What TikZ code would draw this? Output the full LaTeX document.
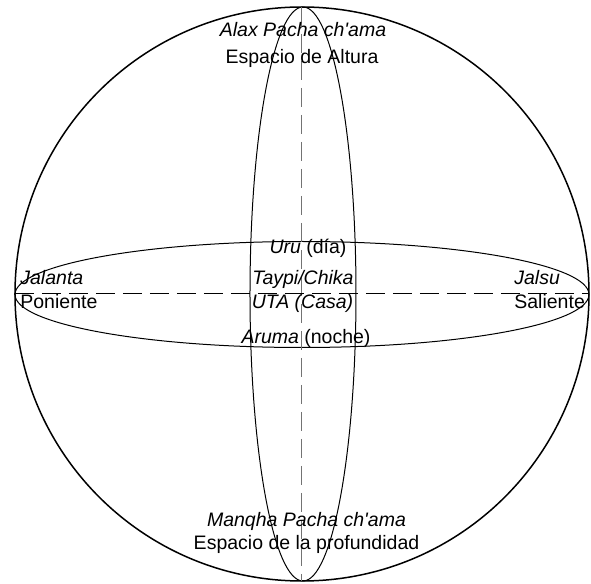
\documentclass[tikz,border=0pt]{standalone}
\usepackage{fontspec}
\setmainfont{Liberation Sans}
\usepackage{tikz}
\usetikzlibrary{positioning,calc}
\tikzset{
  sph_outer/.style={draw, line width=0.75pt},
  sph_ring/.style={draw, line width=0.5pt},
  sph_axis/.style={line width=0.5pt, dash pattern=on 9.5pt off 4pt},
  sph_axisv/.style={sph_axis, draw=black!55},
  sph_lbl/.style={inner sep=0pt, anchor=base, font=\fontsize{9.75}{11.7}\selectfont},
  sph_lblw/.style={sph_lbl, anchor=base west},
}

\begin{document}
\begin{tikzpicture}

\useasboundingbox (-151pt,-145pt) rectangle (144.5pt,147pt);

% sphere and its two rings
\draw[sph_outer] (0,0) circle (143.5pt);
\draw[sph_ring]  (0.5pt,0) ellipse (26.5pt and 143.5pt);
\draw[sph_ring]  (0,-0.25pt) ellipse (143.5pt and 26.5pt);

% axis end points
\coordinate (north) at (0,143.5pt);
\coordinate (south) at (0,-143.5pt);
\coordinate (west)  at (-143.5pt,0);
\coordinate (east)  at (143.5pt,0);

\draw[sph_axisv] (north) -- (south);
\draw[sph_axis]  (west)  -- (east);

% upper space
\node[sph_lbl] (alax)   at (0.5pt,128.65pt)  {\itshape Alax Pacha ch\textquotesingle ama};
\node[sph_lbl] (altura) at (0pt,115.35pt)    {Espacio de Altura};

% centre
\node[sph_lbl] (uru)    at (3pt,20pt)        {\textit{Uru} (día)};
\node[sph_lbl] (taypi)  at (0.5pt,4.5pt)     {\itshape Taypi/Chika};
\node[sph_lbl] (uta)    at (0.25pt,-7.5pt)   {\itshape UTA (Casa)};
\node[sph_lbl] (aruma)  at (2pt,-25pt)       {\textit{Aruma} (noche)};

% west and east
\node[sph_lblw] (jalanta)  at (-141pt,4.5pt)  {\itshape Jalanta};
\node[sph_lblw] (poniente) at (-141pt,-7.5pt) {Poniente};
\node[sph_lblw] (jalsu)    at (106pt,4.5pt)   {\itshape Jalsu};
\node[sph_lblw] (saliente) at (106pt,-7.5pt)  {Saliente};

% lower space
\node[sph_lbl] (manqha)  at (2.25pt,-116.35pt) {\itshape Manqha Pacha ch\textquotesingle ama};
\node[sph_lbl] (profund) at (2.25pt,-128pt)    {Espacio de la profundidad};

\end{tikzpicture}
\end{document}
